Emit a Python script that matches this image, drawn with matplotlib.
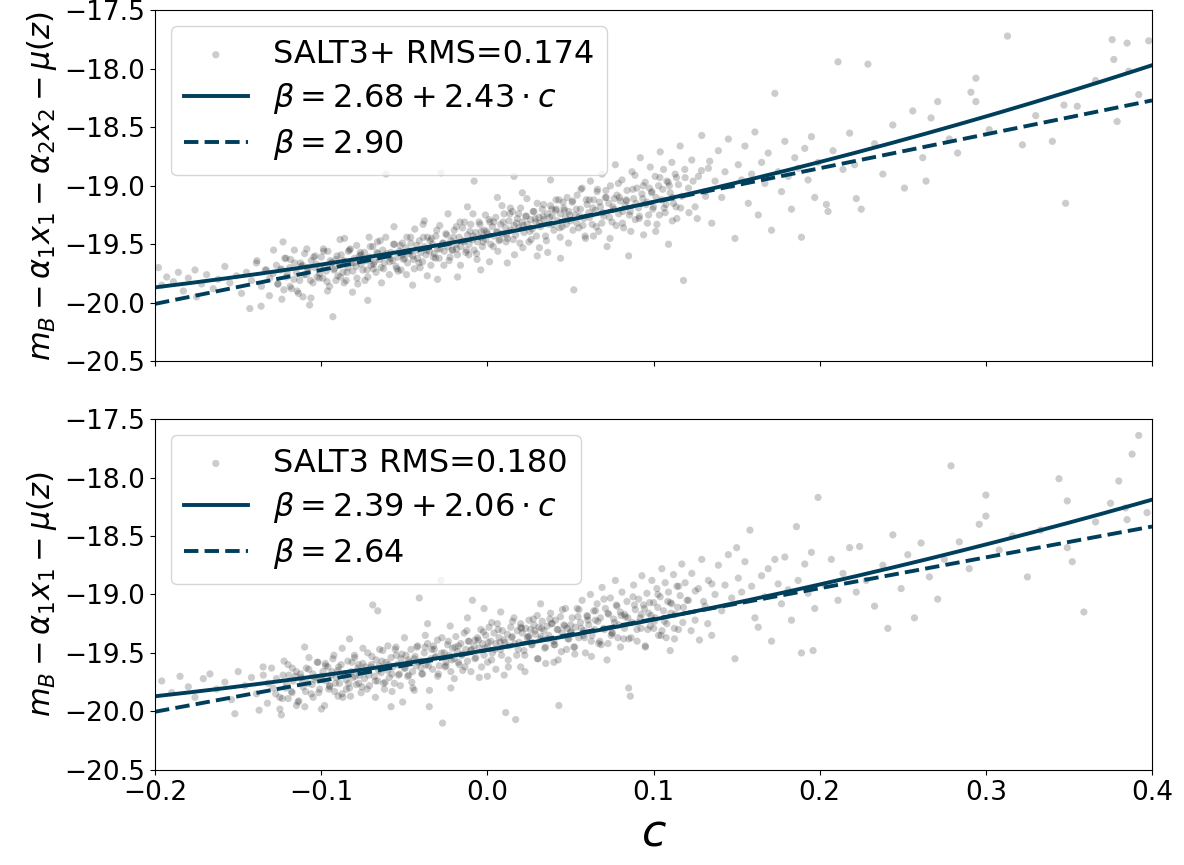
import numpy as np
import matplotlib
matplotlib.use('Agg')
import matplotlib.pyplot as plt

# Fit parameters (from legend) and intercepts
M_top = -19.43
beta_top = (2.68, 2.43)
beta_top_const = 2.90
M_bot = -19.475
beta_bot = (2.39, 2.06)
beta_bot_const = 2.64

label_top = 'SALT3+ RMS=0.174'
label_bot = 'SALT3 RMS=0.180'

# SALT3+ points (colour c, corrected magnitude)
c_top = [
    -0.198, -0.196, -0.193, -0.189, -0.186, -0.183, -0.180, -0.176, -0.172, -0.169,
    -0.165, -0.162, -0.158, -0.155, -0.151, -0.148, -0.145, -0.142, -0.139, -0.136,
    -0.133, -0.131, -0.143, -0.175,
    -0.129, -0.127, -0.126, -0.124, -0.122, -0.121, -0.119, -0.118, -0.116, -0.115,
    -0.113, -0.112, -0.110, -0.109, -0.108, -0.106, -0.105, -0.104, -0.103, -0.101,
    -0.100, -0.099, -0.098, -0.097, -0.096, -0.095, -0.094, -0.093, -0.092, -0.091,
    -0.090, -0.089, -0.088, -0.087, -0.086, -0.085, -0.084, -0.083, -0.082, -0.081,
    -0.080, -0.079, -0.078, -0.077, -0.076, -0.075, -0.074, -0.073, -0.072, -0.071,
    -0.070, -0.069, -0.068, -0.067, -0.066, -0.065, -0.064, -0.063, -0.062, -0.061,
    -0.060, -0.059, -0.058, -0.057, -0.056, -0.055, -0.054, -0.053, -0.052, -0.051,
    -0.111, -0.123, -0.107, -0.086, -0.072,
    -0.050, -0.049, -0.048, -0.047, -0.046, -0.045, -0.044, -0.043, -0.042, -0.041,
    -0.040, -0.039, -0.038, -0.037, -0.036, -0.035, -0.034, -0.033, -0.032, -0.031,
    -0.030, -0.029, -0.028, -0.027, -0.026, -0.025, -0.024, -0.023, -0.022, -0.021,
    -0.020, -0.019, -0.018, -0.017, -0.016, -0.015, -0.014, -0.013, -0.012, -0.011,
    -0.010, -0.009, -0.008, -0.007, -0.006, -0.005, -0.004, -0.003, -0.002, -0.001,
    0.000, 0.001, 0.002, 0.003, 0.004, 0.005, 0.006, 0.007, 0.008, 0.009,
    0.010, 0.011, 0.012, 0.013, 0.014, 0.015, 0.016, 0.017, 0.018, 0.019,
    0.020, 0.021, 0.022, 0.023, 0.024, 0.025, 0.026, 0.027, 0.028, 0.029,
    0.030, 0.031, 0.032, 0.033, 0.034, 0.035, 0.036, 0.037, 0.038, 0.039,
    0.040, 0.041, 0.042, 0.043, 0.044, 0.045, 0.046, 0.047, 0.048, 0.049,
    -0.045, -0.038, -0.030, -0.018, -0.012, -0.004, 0.006, 0.012, 0.021, 0.030,
    0.038, 0.044, -0.008, 0.016,
    0.050, 0.051, 0.052, 0.053, 0.054, 0.055, 0.056, 0.057, 0.058, 0.059,
    0.060, 0.061, 0.062, 0.063, 0.064, 0.065, 0.066, 0.067, 0.068, 0.069,
    0.070, 0.071, 0.072, 0.073, 0.074, 0.075, 0.076, 0.077, 0.078, 0.079,
    0.080, 0.081, 0.082, 0.083, 0.084, 0.085, 0.086, 0.087, 0.088, 0.089,
    0.090, 0.091, 0.092, 0.093, 0.094, 0.095, 0.096, 0.097, 0.098, 0.099,
    0.100, 0.101, 0.102, 0.103, 0.104, 0.105, 0.106, 0.107, 0.108, 0.109,
    0.110, 0.111, 0.112, 0.113, 0.114, 0.115, 0.116, 0.117, 0.118, 0.119,
    0.121, 0.123, 0.125, 0.127, 0.129, 0.131, 0.133, 0.135, 0.137, 0.139,
    0.141, 0.143, 0.145, 0.147, 0.149, 0.151, 0.153, 0.155, 0.157, 0.159,
    0.161, 0.163, 0.165, 0.167, 0.169, 0.171, 0.173, 0.175, 0.177, 0.179,
    0.181, 0.183, 0.185, 0.187, 0.189, 0.191, 0.193, 0.195, 0.197, 0.199,
    0.204, 0.205, 0.208, 0.211, 0.214, 0.218, 0.221, 0.222, 0.225, 0.229,
    0.233, 0.238, 0.244, 0.251, 0.256, 0.262, 0.264, 0.267, 0.271, 0.278,
    0.283, 0.291, 0.294, 0.294, 0.302, 0.313, 0.322, 0.330, 0.340, 0.347,
    0.348, 0.355, 0.366, 0.376, 0.377, 0.379, 0.385, 0.386, 0.392, 0.398,
]
mag_top = [
    -19.70, -19.85, -19.78, -19.82, -19.74, -19.90, -19.79, -19.72, -19.84, -19.76,
    -19.88, -19.80, -19.69, -19.83, -19.77, -19.92, -19.74, -19.81, -19.66, -19.86,
    -19.72, -19.79, -20.05, -19.95,
    -19.75, -19.68, -19.84, -19.71, -19.62, -19.78, -19.70, -19.88, -19.66, -19.74,
    -19.81, -19.69, -19.58, -19.76, -19.72, -19.64, -19.83, -19.70, -19.67, -19.75,
    -19.61, -19.79, -19.69, -19.73, -19.56, -19.86, -19.66, -20.12, -19.71, -19.63,
    -19.77, -19.68, -19.59, -19.74, -19.65, -19.81, -19.70, -19.55, -19.66, -19.73,
    -19.62, -19.69, -19.84, -19.60, -19.67, -19.72, -19.57, -19.64, -19.78, -19.61,
    -19.68, -19.52, -19.65, -19.74, -19.58, -19.63, -19.70, -19.55, -19.66, -18.90,
    -19.60, -19.76, -19.57, -19.64, -19.50, -19.69, -19.61, -19.56, -19.72, -19.59,
    -19.95, -19.48, -20.02, -19.45, -19.98,
    -19.62, -19.53, -19.66, -19.58, -19.49, -19.60, -19.71, -19.55, -19.62, -19.47,
    -19.57, -19.65, -19.52, -19.59, -19.44, -19.56, -19.68, -19.50, -19.58, -19.43,
    -19.54, -19.62, -18.89, -19.49, -19.56, -19.41, -19.52, -19.64, -19.47, -19.55,
    -19.38, -19.50, -19.59, -19.44, -19.52, -19.36, -19.48, -19.57, -19.42, -19.50,
    -19.33, -19.46, -19.55, -19.40, -19.48, -19.31, -19.44, -19.52, -19.38, -19.46,
    -19.41, -19.29, -19.50, -19.35, -19.43, -19.27, -19.39, -19.47, -19.33, -19.41,
    -19.24, -19.36, -19.45, -19.30, -19.38, -19.22, -19.34, -19.42, -19.28, -19.36,
    -19.19, -19.31, -19.40, -19.26, -19.33, -19.48, -19.29, -19.37, -19.22, -19.31,
    -19.15, -19.27, -19.35, -19.20, -19.29, -19.43, -19.24, -19.33, -19.17, -19.26,
    -19.38, -19.21, -19.30, -19.12, -19.24, -19.35, -19.19, -19.27, -19.10, -19.22,
    -19.85, -19.30, -19.80, -19.78, -19.18, -19.72, -19.10, -19.66, -19.06, -19.60,
    -18.95, -19.62, -18.96, -18.92,
    -19.30, -19.14, -19.89, -19.25, -19.08, -19.36, -19.20, -19.02, -19.28, -19.45,
    -19.16, -19.23, -18.96, -19.33, -19.12, -19.21, -19.05, -19.39, -19.18, -18.90,
    -19.26, -19.10, -19.52, -19.15, -19.00, -19.31, -19.20, -18.82, -19.08, -19.24,
    -19.13, -18.95, -19.36, -19.17, -19.04, -19.60, -19.22, -18.88, -19.11, -19.29,
    -19.02, -19.19, -18.76, -19.07, -19.42, -18.97, -19.14, -19.25, -18.84, -19.05,
    -19.18, -18.92, -19.33, -19.00, -18.71, -19.12, -18.86, -19.23, -18.96, -19.50,
    -19.06, -18.80, -19.15, -18.90, -19.28, -18.99, -18.66, -19.09, -19.81, -18.93,
    -19.02, -18.78, -19.18, -18.92, -18.57, -19.05, -18.85, -19.32, -18.96, -18.70,
    -19.10, -18.88, -18.60, -19.00, -19.45, -18.82, -18.95, -18.66, -19.15, -18.90,
    -18.54, -19.25, -18.80, -18.98, -18.72, -19.38, -18.21, -18.88, -19.05, -18.62,
    -18.92, -19.20, -18.76, -18.85, -19.44, -18.68, -18.95, -18.58, -19.10, -18.80,
    -19.16, -19.22, -18.70, -17.94, -18.86, -18.55, -18.82, -19.11, -19.20, -17.96,
    -18.64, -18.90, -18.48, -19.02, -18.36, -18.76, -18.96, -18.42, -18.28, -18.60,
    -18.72, -18.20, -18.08, -18.28, -18.52, -17.72, -18.65, -18.40, -18.62, -18.31,
    -19.15, -18.32, -18.10, -17.75, -17.92, -18.45, -17.78, -18.02, -18.22, -17.76,
]
# denser core of the SALT3+ cloud
c_top_core = [
    -0.1245, -0.1225, -0.1205, -0.1185, -0.1165, -0.1145, -0.1125, -0.1105, -0.1085, -0.1065,
    -0.1045, -0.1025, -0.1005, -0.0985, -0.0965, -0.0945, -0.0925, -0.0905, -0.0885, -0.0865,
    -0.0845, -0.0825, -0.0805, -0.0785, -0.0765, -0.0745, -0.0725, -0.0705, -0.0685, -0.0665,
    -0.0645, -0.0625, -0.0605, -0.0585, -0.0565, -0.0545, -0.0525, -0.0505, -0.0485, -0.0465,
    -0.0445, -0.0425, -0.0405, -0.0385, -0.0365, -0.0345, -0.0325, -0.0305, -0.0285, -0.0265,
    -0.0245, -0.0225, -0.0205, -0.0185, -0.0165, -0.0145, -0.0125, -0.0105, -0.0085, -0.0065,
    -0.0045, -0.0025, -0.0005, 0.0015, 0.0035, 0.0055, 0.0075, 0.0095, 0.0115, 0.0135,
    0.0155, 0.0175, 0.0195, 0.0215, 0.0235, 0.0255, 0.0275, 0.0295, 0.0315, 0.0335,
    0.0355, 0.0375, 0.0395, 0.0415, 0.0435, 0.0455, 0.0475, 0.0495, 0.0515, 0.0535,
    0.0555, 0.0575, 0.0595, 0.0615, 0.0635, 0.0655, 0.0675, 0.0695, 0.0715, 0.0735,
    0.0755, 0.0775, 0.0795, 0.0815, 0.0835, 0.0855, 0.0875, 0.0895, 0.0915, 0.0935,
    0.0955, 0.0975, 0.0995, 0.1015, 0.1035, 0.1055, 0.1075, 0.1095, 0.1115, 0.1135,
    -0.1387, -0.1362, -0.1337, -0.1312, -0.1287, -0.1262, -0.1237, -0.1212, -0.1187, -0.1162,
    -0.1137, -0.1112, -0.1087, -0.1062, -0.1037, -0.1012, -0.0987, -0.0962, -0.0937, -0.0912,
    -0.0887, -0.0862, -0.0837, -0.0812, -0.0787, -0.0762, -0.0737, -0.0712, -0.0687, -0.0662,
    -0.0637, -0.0612, -0.0587, -0.0562, -0.0537, -0.0512, -0.0487, -0.0462, -0.0437, -0.0412,
    -0.0387, -0.0362, -0.0337, -0.0312, -0.0287, -0.0262, -0.0237, -0.0212, -0.0187, -0.0162,
    -0.0137, -0.0112, -0.0087, -0.0062, -0.0037, -0.0012, 0.0013, 0.0038, 0.0063, 0.0088,
    0.0113, 0.0138, 0.0163, 0.0188, 0.0213, 0.0238, 0.0263, 0.0288, 0.0313, 0.0338,
    0.0363, 0.0388, 0.0413, 0.0438, 0.0463, 0.0488, 0.0513, 0.0538, 0.0563, 0.0588,
    0.0613, 0.0638, 0.0663, 0.0688, 0.0713, 0.0738, 0.0763, 0.0788, 0.0813, 0.0838,
    0.0863, 0.0888, 0.0913, 0.0938, 0.0963, 0.0988, 0.1013, 0.1038, 0.1063, 0.1088,
    0.1113, 0.1138, 0.1163, 0.1188, 0.1213, 0.1238, 0.1263, 0.1288, 0.1313, 0.1338,
]
mag_top_core = [
    -19.72, -19.89, -19.75, -19.63, -19.80, -19.90, -19.66, -19.76, -19.70, -19.81,
    -19.61, -19.78, -19.71, -19.56, -19.82, -19.64, -19.72, -19.60, -19.78, -19.64,
    -19.74, -19.54, -19.66, -19.79, -19.57, -19.63, -19.72, -19.52, -19.67, -19.57,
    -19.47, -19.71, -19.58, -19.62, -19.50, -19.71, -19.51, -19.63, -19.44, -19.56,
    -19.63, -19.51, -19.70, -19.44, -19.55, -19.47, -19.61, -19.38, -19.54, -19.49,
    -19.42, -19.61, -19.44, -19.54, -19.31, -19.47, -19.55, -19.39, -19.43, -19.58,
    -19.33, -19.48, -19.39, -19.31, -19.52, -19.40, -19.46, -19.31, -19.42, -19.24,
    -19.46, -19.32, -19.49, -19.34, -19.26, -19.39, -19.22, -19.43, -19.32, -19.26,
    -19.47, -19.27, -19.33, -19.20, -19.36, -19.14, -19.33, -19.25, -19.38, -19.20,
    -19.26, -19.34, -19.12, -19.27, -19.19, -19.35, -19.14, -19.23, -19.10, -19.27,
    -19.18, -19.34, -19.10, -19.22, -19.12, -19.25, -19.03, -19.15, -19.26, -19.11,
    -19.16, -19.02, -19.20, -19.10, -19.25, -19.03, -19.16, -19.00, -19.10, -19.18,
    -19.64, -20.03, -19.72, -19.94, -19.55, -19.84, -19.97, -19.62, -19.86, -19.55,
    -19.92, -19.68, -19.54, -19.96, -19.60, -19.79, -19.54, -19.90, -19.66, -19.81,
    -19.46, -19.83, -19.56, -19.91, -19.51, -19.59, -19.81, -19.44, -19.71, -19.48,
    -19.83, -19.44, -19.65, -19.35, -19.73, -19.49, -19.76, -19.44, -19.37, -19.66,
    -19.33, -19.77, -19.45, -19.62, -19.34, -19.68, -19.24, -19.55, -19.35, -19.68,
    -19.31, -19.59, -19.24, -19.63, -19.39, -19.25, -19.65, -19.31, -19.56, -19.17,
    -19.48, -19.19, -19.59, -19.24, -19.53, -19.11, -19.46, -19.28, -19.53, -19.16,
    -19.57, -19.20, -19.12, -19.44, -19.21, -19.49, -19.13, -19.32, -19.03, -19.43,
    -19.12, -19.43, -19.03, -19.32, -19.04, -19.45, -19.11, -18.98, -19.32, -19.13,
    -19.39, -18.91, -19.28, -19.00, -19.32, -19.06, -19.39, -18.93, -19.19, -18.97,
    -19.30, -18.93, -19.19, -18.86, -19.23, -18.96, -19.28, -18.87, -19.09, -18.79,
]

# SALT3 points
c_bot = [
    -0.196, -0.190, -0.185, -0.180, -0.176, -0.171, -0.167, -0.163, -0.158, -0.154,
    -0.150, -0.146, -0.142, -0.139, -0.135, -0.132, -0.152, -0.124,
    -0.129, -0.127, -0.125, -0.123, -0.121, -0.120, -0.118, -0.117, -0.115, -0.114,
    -0.112, -0.111, -0.109, -0.108, -0.106, -0.105, -0.104, -0.102, -0.101, -0.100,
    -0.099, -0.098, -0.097, -0.096, -0.095, -0.094, -0.093, -0.092, -0.091, -0.090,
    -0.089, -0.088, -0.087, -0.086, -0.085, -0.084, -0.083, -0.082, -0.081, -0.080,
    -0.079, -0.078, -0.077, -0.076, -0.075, -0.074, -0.073, -0.072, -0.071, -0.070,
    -0.069, -0.068, -0.067, -0.066, -0.065, -0.064, -0.063, -0.062, -0.061, -0.060,
    -0.059, -0.058, -0.057, -0.056, -0.055, -0.054, -0.053, -0.052, -0.051,
    -0.110, -0.083, -0.066, -0.058,
    -0.050, -0.049, -0.048, -0.047, -0.046, -0.045, -0.044, -0.043, -0.042, -0.041,
    -0.040, -0.039, -0.038, -0.037, -0.036, -0.035, -0.034, -0.033, -0.032, -0.031,
    -0.030, -0.029, -0.028, -0.027, -0.026, -0.025, -0.024, -0.023, -0.022, -0.021,
    -0.020, -0.019, -0.018, -0.017, -0.016, -0.015, -0.014, -0.013, -0.012, -0.011,
    -0.010, -0.009, -0.008, -0.007, -0.006, -0.005, -0.004, -0.003, -0.002, -0.001,
    0.000, 0.001, 0.002, 0.003, 0.004, 0.005, 0.006, 0.007, 0.008, 0.009,
    0.010, 0.011, 0.012, 0.013, 0.014, 0.015, 0.016, 0.017, 0.018, 0.019,
    0.020, 0.021, 0.022, 0.023, 0.024, 0.025, 0.026, 0.027, 0.028, 0.029,
    0.030, 0.031, 0.032, 0.033, 0.034, 0.035, 0.036, 0.037, 0.038, 0.039,
    0.040, 0.041, 0.042, 0.043, 0.044, 0.045, 0.046, 0.047, 0.048, 0.049,
    -0.044, -0.036, -0.022, -0.012, 0.000, 0.008, 0.020, 0.032, 0.040, -0.002,
    0.050, 0.051, 0.052, 0.053, 0.054, 0.055, 0.056, 0.057, 0.058, 0.059,
    0.060, 0.061, 0.062, 0.063, 0.064, 0.065, 0.066, 0.067, 0.068, 0.069,
    0.070, 0.071, 0.072, 0.073, 0.074, 0.075, 0.076, 0.077, 0.078, 0.079,
    0.080, 0.081, 0.082, 0.083, 0.084, 0.085, 0.086, 0.087, 0.088, 0.089,
    0.090, 0.091, 0.092, 0.093, 0.094, 0.095, 0.096, 0.097, 0.098, 0.099,
    0.100, 0.101, 0.102, 0.103, 0.104, 0.105, 0.106, 0.107, 0.108, 0.109,
    0.110, 0.111, 0.112, 0.113, 0.114, 0.115, 0.116, 0.117, 0.118, 0.119,
    0.121, 0.123, 0.125, 0.127, 0.129, 0.131, 0.133, 0.135, 0.137, 0.139,
    0.141, 0.143, 0.145, 0.147, 0.149, 0.150, 0.151, 0.153, 0.155, 0.158,
    0.159, 0.161, 0.163, 0.165, 0.167, 0.169, 0.171, 0.173, 0.175, 0.177,
    0.179, 0.181, 0.183, 0.186, 0.187, 0.189, 0.191, 0.193, 0.195, 0.196,
    0.197, 0.199,
    0.203, 0.207, 0.211, 0.214, 0.218, 0.222, 0.224, 0.228, 0.233, 0.238,
    0.241, 0.244, 0.249, 0.253, 0.257, 0.261, 0.266, 0.271, 0.275, 0.279,
    0.284, 0.290, 0.296, 0.300, 0.300, 0.308, 0.316, 0.325, 0.333, 0.344,
    0.349, 0.349, 0.352, 0.359, 0.366, 0.375, 0.380, 0.384, 0.385, 0.388,
    0.392, 0.397,
]
mag_bot = [
    -19.74, -19.84, -19.70, -19.79, -19.88, -19.72, -19.68, -19.81, -19.75, -19.90,
    -19.66, -19.78, -19.71, -19.85, -19.62, -19.76, -20.02, -20.03,
    -19.80, -19.72, -19.88, -19.69, -19.77, -19.60, -19.83, -19.74, -19.66, -19.92,
    -19.71, -19.79, -19.63, -19.76, -19.85, -19.68, -19.73, -19.58, -19.81, -19.70,
    -19.66, -19.95, -19.74, -19.62, -19.78, -19.69, -19.55, -19.83, -19.71, -19.65,
    -19.76, -19.60, -19.88, -19.68, -19.73, -19.57, -19.80, -19.66, -19.71, -19.52,
    -19.77, -19.63, -19.69, -19.84, -19.59, -19.72, -19.65, -19.50, -19.78, -19.62,
    -19.09, -19.70, -19.56, -19.74, -19.61, -19.67, -19.48, -19.81, -19.58, -19.65,
    -19.71, -19.54, -19.62, -19.76, -19.45, -19.60, -19.68, -19.55, -19.92,
    -19.45, -19.38, -19.14, -19.96,
    -19.63, -19.52, -19.70, -19.58, -19.47, -19.66, -19.55, -19.61, -19.44, -19.03,
    -19.57, -19.68, -19.50, -19.60, -19.42, -19.96, -19.55, -19.64, -19.47, -19.53,
    -19.39, -19.61, -18.88, -20.10, -19.50, -19.58, -19.43, -19.52, -19.66, -19.46,
    -19.55, -19.36, -19.49, -19.60, -19.42, -19.51, -19.33, -19.47, -19.57, -19.40,
    -19.48, -19.05, -19.44, -19.54, -19.37, -19.46, -19.30, -19.42, -19.52, -19.35,
    -19.45, -19.28, -19.40, -19.50, -19.33, -19.42, -19.25, -19.37, -19.47, -19.31,
    -19.39, -20.01, -19.34, -19.44, -19.28, -19.36, -19.20, -20.07, -19.31, -19.41,
    -19.25, -19.33, -19.48, -19.29, -19.37, -19.22, -19.30, -19.43, -19.26, -19.34,
    -19.18, -19.28, -19.38, -19.23, -19.31, -19.45, -19.27, -19.35, -19.16, -19.25,
    -19.40, -19.22, -19.30, -19.95, -19.19, -19.33, -19.26, -19.12, -19.29, -19.38,
    -19.82, -19.25, -19.80, -19.20, -19.70, -19.15, -19.62, -19.08, -19.58, -19.12,
    -19.32, -19.20, -19.45, -19.28, -19.12, -19.37, -19.24, -19.05, -19.31, -19.50,
    -19.18, -19.26, -19.00, -19.35, -19.14, -19.22, -19.08, -19.42, -19.20, -18.94,
    -19.29, -19.12, -19.56, -19.17, -19.03, -19.33, -19.21, -18.88, -19.10, -19.26,
    -19.15, -18.98, -19.38, -19.19, -19.06, -19.80, -19.87, -19.24, -18.92, -19.13,
    -19.30, -19.04, -19.20, -18.84, -19.09, -19.44, -18.99, -19.16, -19.27, -18.88,
    -19.07, -19.20, -18.95, -19.35, -19.02, -18.78, -19.14, -18.90, -19.25, -18.98,
    -19.48, -19.08, -18.83, -19.17, -18.93, -19.30, -19.01, -18.74, -19.11, -18.90,
    -19.05, -18.82, -19.22, -18.95, -18.70, -19.10, -18.88, -19.35, -19.00, -18.75,
    -19.14, -18.92, -18.66, -19.03, -19.55, -18.60, -18.86, -18.98, -18.72, -18.45,
    -18.93, -19.20, -19.28, -18.84, -19.02, -18.78, -19.40, -18.70, -18.91, -19.08,
    -18.68, -18.96, -19.22, -18.42, -18.88, -19.50, -18.74, -18.99, -18.64, -19.48,
    -19.12, -18.17,
    -18.92, -18.70, -19.05, -18.82, -18.60, -18.98, -18.59, -18.88, -19.10, -18.75,
    -19.29, -18.49, -18.95, -18.66, -19.20, -18.56, -18.85, -19.04, -18.70, -17.90,
    -18.55, -18.78, -18.40, -18.15, -18.33, -18.62, -18.50, -18.85, -18.45, -18.01,
    -18.20, -18.60, -18.72, -19.15, -18.38, -18.22, -18.03, -18.26, -18.36, -17.80,
    -17.64, -18.30,
]
# denser core of the SALT3 cloud
c_bot_core = [
    -0.1235, -0.1215, -0.1195, -0.1175, -0.1155, -0.1135, -0.1115, -0.1095, -0.1075, -0.1055,
    -0.1035, -0.1015, -0.0995, -0.0975, -0.0955, -0.0935, -0.0915, -0.0895, -0.0875, -0.0855,
    -0.0835, -0.0815, -0.0795, -0.0775, -0.0755, -0.0735, -0.0715, -0.0695, -0.0675, -0.0655,
    -0.0635, -0.0615, -0.0595, -0.0575, -0.0555, -0.0535, -0.0515, -0.0495, -0.0475, -0.0455,
    -0.0435, -0.0415, -0.0395, -0.0375, -0.0355, -0.0335, -0.0315, -0.0295, -0.0275, -0.0255,
    -0.0235, -0.0215, -0.0195, -0.0175, -0.0155, -0.0135, -0.0115, -0.0095, -0.0075, -0.0055,
    -0.0035, -0.0015, 0.0005, 0.0025, 0.0045, 0.0065, 0.0085, 0.0105, 0.0125, 0.0145,
    0.0165, 0.0185, 0.0205, 0.0225, 0.0245, 0.0265, 0.0285, 0.0305, 0.0325, 0.0345,
    0.0365, 0.0385, 0.0405, 0.0425, 0.0445, 0.0465, 0.0485, 0.0505, 0.0525, 0.0545,
    0.0565, 0.0585, 0.0605, 0.0625, 0.0645, 0.0665, 0.0685, 0.0705, 0.0725, 0.0745,
    0.0765, 0.0785, 0.0805, 0.0825, 0.0845, 0.0865, 0.0885, 0.0905, 0.0925, 0.0945,
    0.0965, 0.0985, 0.1005, 0.1025, 0.1045, 0.1065, 0.1085, 0.1105, 0.1125, 0.1145,
    -0.1374, -0.1349, -0.1324, -0.1299, -0.1274, -0.1249, -0.1224, -0.1199, -0.1174, -0.1149,
    -0.1124, -0.1099, -0.1074, -0.1049, -0.1024, -0.0999, -0.0974, -0.0949, -0.0924, -0.0899,
    -0.0874, -0.0849, -0.0824, -0.0799, -0.0774, -0.0749, -0.0724, -0.0699, -0.0674, -0.0649,
    -0.0624, -0.0599, -0.0574, -0.0549, -0.0524, -0.0499, -0.0474, -0.0449, -0.0424, -0.0399,
    -0.0374, -0.0349, -0.0324, -0.0299, -0.0274, -0.0249, -0.0224, -0.0199, -0.0174, -0.0149,
    -0.0124, -0.0099, -0.0074, -0.0049, -0.0024, 0.0001, 0.0026, 0.0051, 0.0076, 0.0101,
    0.0126, 0.0151, 0.0176, 0.0201, 0.0226, 0.0251, 0.0276, 0.0301, 0.0326, 0.0351,
    0.0376, 0.0401, 0.0426, 0.0451, 0.0476, 0.0501, 0.0526, 0.0551, 0.0576, 0.0601,
    0.0626, 0.0651, 0.0676, 0.0701, 0.0726, 0.0751, 0.0776, 0.0801, 0.0826, 0.0851,
    0.0876, 0.0901, 0.0926, 0.0951, 0.0976, 0.1001, 0.1026, 0.1051, 0.1076, 0.1101,
    0.1126, 0.1151, 0.1176, 0.1201, 0.1226, 0.1251, 0.1276, 0.1301, 0.1326, 0.1351,
]
mag_bot_core = [
    -19.89, -19.80, -19.69, -19.84, -19.70, -19.91, -19.74, -19.83, -19.64, -19.77,
    -19.71, -19.84, -19.73, -19.59, -19.81, -19.66, -19.76, -19.62, -19.85, -19.68,
    -19.76, -19.58, -19.70, -19.60, -19.79, -19.62, -19.69, -19.53, -19.74, -19.65,
    -19.57, -19.75, -19.60, -19.68, -19.47, -19.69, -19.51, -19.63, -19.56, -19.75,
    -19.53, -19.58, -19.68, -19.45, -19.61, -19.47, -19.54, -19.68, -19.50, -19.62,
    -19.40, -19.56, -19.45, -19.58, -19.52, -19.62, -19.40, -19.47, -19.55, -19.39,
    -19.62, -19.46, -19.41, -19.56, -19.47, -19.30, -19.52, -19.41, -19.56, -19.37,
    -19.42, -19.47, -19.29, -19.52, -19.36, -19.43, -19.31, -19.55, -19.36, -19.46,
    -19.38, -19.25, -19.43, -19.30, -19.49, -19.27, -19.38, -19.32, -19.45, -19.19,
    -19.29, -19.37, -19.22, -19.40, -19.30, -19.23, -19.43, -19.30, -19.16, -19.35,
    -19.24, -19.37, -19.18, -19.29, -19.20, -19.37, -19.09, -19.24, -19.29, -19.12,
    -19.30, -19.18, -19.23, -19.11, -19.35, -19.23, -19.06, -19.16, -19.29, -19.11,
    -19.99, -19.69, -19.93, -19.63, -19.85, -19.98, -19.57, -19.89, -19.63, -19.95,
    -19.68, -19.96, -19.54, -19.88, -19.58, -19.98, -19.61, -19.79, -19.52, -19.87,
    -19.46, -19.81, -19.87, -19.54, -19.76, -19.46, -19.81, -19.60, -19.88, -19.47,
    -19.76, -19.44, -19.83, -19.52, -19.78, -19.37, -19.69, -19.80, -19.45, -19.63,
    -19.35, -19.82, -19.44, -19.70, -19.37, -19.61, -19.27, -19.72, -19.44, -19.65,
    -19.31, -19.66, -19.39, -19.71, -19.32, -19.58, -19.24, -19.64, -19.41, -19.69,
    -19.62, -19.23, -19.52, -19.28, -19.66, -19.36, -19.21, -19.55, -19.29, -19.59,
    -19.21, -19.43, -19.56, -19.13, -19.47, -19.26, -19.51, -19.13, -19.35, -19.19,
    -19.53, -19.14, -19.40, -19.04, -19.42, -19.33, -19.09, -19.45, -19.17, -19.38,
    -19.02, -19.40, -19.17, -19.45, -19.07, -19.29, -19.00, -19.31, -19.37, -19.07,
    -19.38, -18.93, -19.24, -19.05, -19.31, -18.97, -19.39, -19.06, -19.25, -18.91,
]

line_color = '#003f5c'
c_grid = np.linspace(-0.2, 0.4, 200)

fig, axes = plt.subplots(2, 1, figsize=(11.84, 8.65), dpi=100, sharex=True)
plt.subplots_adjust(left=0.131, right=0.973, top=0.988, bottom=0.11, hspace=0.165)

panels = [
    (axes[0], c_top + c_top_core, mag_top + mag_top_core, M_top, beta_top, beta_top_const,
     label_top, r'$m_B - \alpha_1 x_1 - \alpha_2 x_2 - \mu(z)$'),
    (axes[1], c_bot + c_bot_core, mag_bot + mag_bot_core, M_bot, beta_bot, beta_bot_const,
     label_bot, r'$m_B - \alpha_1 x_1 - \mu(z)$'),
]

for ax, cc, mm, M, (b0, b1), bconst, lab, ylab in panels:
    ax.scatter(cc, mm, s=27, color='black', alpha=0.2, edgecolors='none', label=lab)
    ax.plot(c_grid, M + (b0 + b1 * c_grid) * c_grid, color=line_color, lw=2.8,
            label=rf'$\beta = {b0:.2f} + {b1:.2f} \cdot c$')
    ax.plot(c_grid, M + bconst * c_grid, color=line_color, lw=2.8, ls='--',
            label=rf'$\beta = {bconst:.2f}$')
    ax.set_xlim(-0.2, 0.4)
    ax.set_ylim(-20.5, -17.5)
    ax.set_yticks([-20.5, -20.0, -19.5, -19.0, -18.5, -18.0, -17.5])
    ax.tick_params(labelsize=19)
    ax.set_ylabel(ylab, fontsize=22)
    ax.legend(loc='upper left', fontsize=23, labelspacing=0.35)

axes[1].set_xlabel(r'$c$', fontsize=32)
fig.align_ylabels(axes)

plt.savefig('out.png', dpi=100)
